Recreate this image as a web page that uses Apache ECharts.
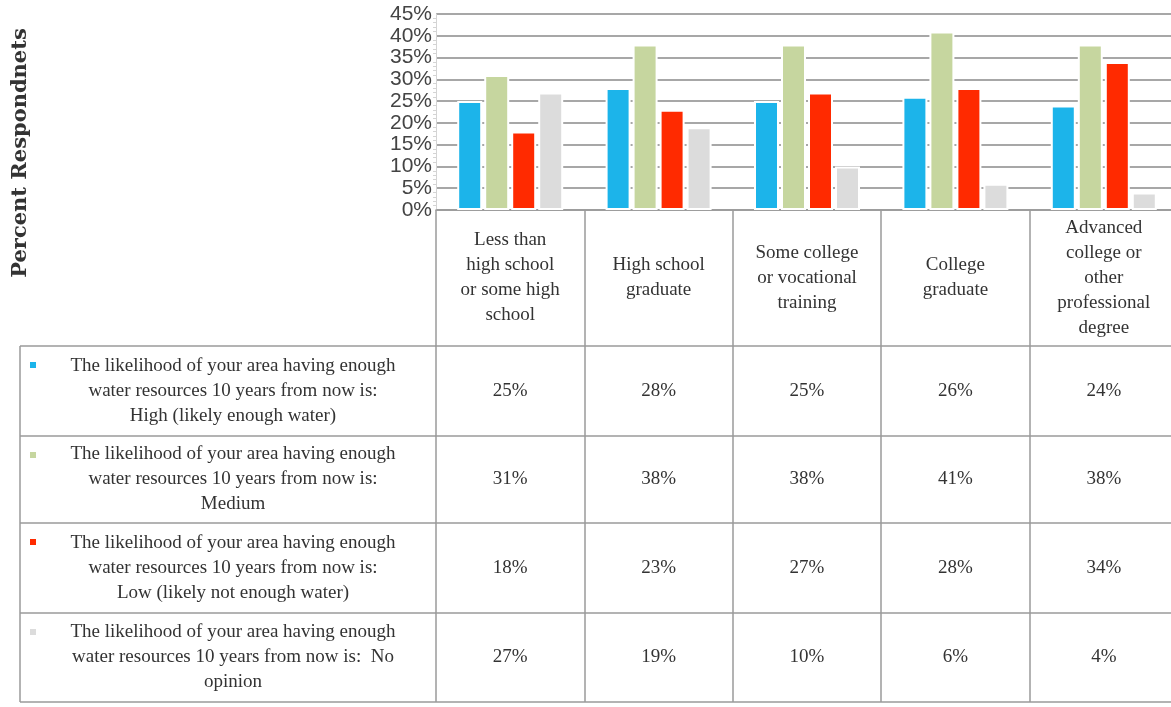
<!DOCTYPE html>
<html>
<head>
<meta charset="utf-8">
<script src="https://cdn.jsdelivr.net/npm/echarts@6/dist/echarts.min.js"></script>
<style>
    html, body { margin: 0; padding: 0; background: #fff; }
    #chart_water { width: 1171px; height: 707px; }
</style>
</head>
<body>
<div id="chart_water"></div>
<script>
// education levels (column headers of the data table)
var categories = [
    'Less than\nhigh school\nor some high\nschool',
    'High school\ngraduate',
    'Some college\nor vocational\ntraining',
    'College\ngraduate',
    'Advanced\ncollege or\nother\nprofessional\ndegree'
];

var seriesNames = [
    'The likelihood of your area having enough\nwater resources 10 years from now is:\nHigh (likely enough water)',
    'The likelihood of your area having enough\nwater resources 10 years from now is:\nMedium',
    'The likelihood of your area having enough\nwater resources 10 years from now is:\nLow (likely not enough water)',
    'The likelihood of your area having enough\nwater resources 10 years from now is:  No\nopinion'
];

var highData = [25, 28, 25, 26, 24];
var mediumData = [31, 38, 38, 41, 38];
var lowData = [18, 23, 27, 28, 34];
var noOpinionData = [27, 19, 10, 6, 4];

var yTicks = [0, 5, 10, 15, 20, 25, 30, 35, 40, 45];

var colors = ['#1cb4ea', '#c6d69f', '#ff2a00', '#dcdcdc'];
var allData = [highData, mediumData, lowData, noOpinionData];

// table layout (pixels)
var plotBottom = 210;
var rowTops = [346, 436, 523, 613];
var tableBottom = 702;
var tableLeft = 20;
var plotLeft = 436;
var lineColor = '#9a9a9a';
var serif = '"Liberation Serif", "DejaVu Serif", serif';
var tableFont = 19;

var myChart = echarts.init(document.getElementById('chart_water'));

var xAxes = [{
    type: 'category',
    data: categories,
    position: 'bottom',
    axisLine: {lineStyle: {color: lineColor, width: 1.5}},
    axisTick: {show: true, length: tableBottom - plotBottom, interval: 0, lineStyle: {color: lineColor, width: 1.5}},
    axisLabel: {
        interval: 0,
        margin: (rowTops[0] - plotBottom) / 2,
        verticalAlign: 'middle',
        fontFamily: serif,
        fontSize: tableFont,
        lineHeight: 25,
        color: '#333'
    }
}];

rowTops.forEach(function (top, k) {
    var next = k < rowTops.length - 1 ? rowTops[k + 1] : tableBottom;
    xAxes.push({
        type: 'category',
        data: categories,
        position: 'bottom',
        offset: top - plotBottom,
        axisLine: {lineStyle: {color: lineColor, width: 1.5}},
        axisTick: {show: false},
        axisLabel: {
            interval: 0,
            margin: (next - top) / 2,
            verticalAlign: 'middle',
            fontFamily: serif,
            fontSize: tableFont,
            color: '#333',
            formatter: function (v, i) {
                return allData[k][i] + '%';
            }
        }
    });
});

var graphics = [];
// left label column of the data table
rowTops.concat([tableBottom]).forEach(function (y) {
    graphics.push({
        type: 'line',
        shape: {x1: tableLeft, y1: y, x2: y === tableBottom ? 1171 : plotLeft, y2: y},
        style: {stroke: lineColor, lineWidth: 1.5}
    });
});
graphics.push({
    type: 'line',
    shape: {x1: tableLeft, y1: rowTops[0], x2: tableLeft, y2: tableBottom},
    style: {stroke: lineColor, lineWidth: 1.5}
});
seriesNames.forEach(function (name, k) {
    var top = rowTops[k];
    var next = k < rowTops.length - 1 ? rowTops[k + 1] : tableBottom;
    graphics.push({
        type: 'rect',
        shape: {x: 30, y: top + 16, width: 6, height: 6},
        style: {fill: colors[k]}
    });
    graphics.push({
        type: 'text',
        x: 233,
        y: (top + next) / 2,
        style: {
            text: name,
            align: 'center',
            verticalAlign: 'middle',
            fontFamily: serif,
            fontSize: tableFont,
            lineHeight: 25,
            fill: '#333'
        }
    });
});
graphics.push({
    type: 'text',
    x: 21,
    y: 153,
    rotation: Math.PI / 2,
    style: {
        text: 'Percent Respondnets',
        align: 'center',
        verticalAlign: 'middle',
        fontFamily: '"DejaVu Serif", serif',
        fontWeight: 'bold',
        fontSize: 21,
        fill: '#333'
    }
});

var option = {
    animation: false,
    color: colors,
    grid: {left: plotLeft, top: 14, width: 742, bottom: 707 - plotBottom, outerBoundsMode: 'none'},
    xAxis: xAxes,
    yAxis: {
        type: 'value',
        min: yTicks[0],
        max: yTicks[yTicks.length - 1],
        interval: yTicks[1] - yTicks[0],
        axisLine: {show: true, lineStyle: {color: '#d4d4d4'}},
        axisTick: {show: false},
        minorTick: {show: true, splitNumber: 5, length: 3, lineStyle: {color: '#d4d4d4'}},
        axisLabel: {
            margin: 4,
            formatter: '{value}%',
            fontFamily: '"Liberation Sans", Arial, sans-serif',
            fontSize: 21,
            color: '#444'
        },
        splitLine: {lineStyle: {color: '#8a8a8a', width: 1.5}}
    },
    series: allData.map(function (d, k) {
        return {
            name: seriesNames[k],
            type: 'bar',
            data: d,
            barWidth: 25,
            barGap: '8%',
            itemStyle: {borderColor: '#fff', borderWidth: 2}
        };
    }),
    graphic: graphics
};

myChart.setOption(option);

window.addEventListener('resize', function () {
    myChart.resize();
});
</script>
</body>
</html>
